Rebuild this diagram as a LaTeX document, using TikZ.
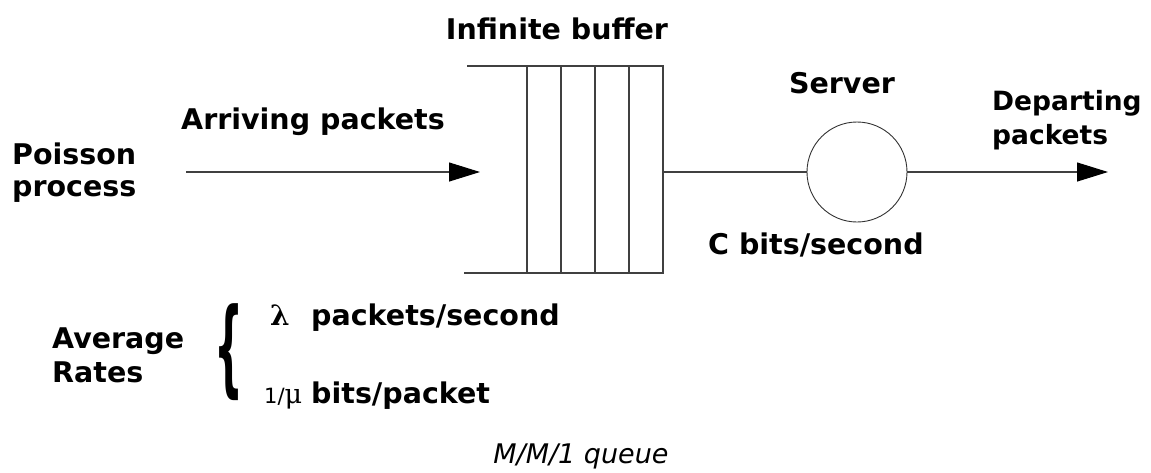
\documentclass[tikz,border=0pt]{standalone}
\usepackage{fontspec}
\setmainfont{DejaVu Sans}
\newfontfamily\symfont{DejaVu Serif}
\usetikzlibrary{arrows.meta}
\tikzset{
  lbl/.style={inner sep=0pt, font=\fontsize{28.5}{32}\selectfont\bfseries},
  captext/.style={inner sep=0pt, font=\fontsize{27}{30}\selectfont\itshape},
  wire/.style={draw=black!75, line width=1.1pt},
  flow/.style={wire, -{Triangle[length=31pt,width=19pt,fill=black,color=black]}},
}
\begin{document}
\begin{tikzpicture}[x=1pt,y=-1pt]
\useasboundingbox (0,0) rectangle (1151,472);
% buffer
\node[draw=black!75, line width=1.3pt, outer sep=0pt, minimum width=136pt, minimum height=207pt, inner sep=0pt] (buf) at (595,169.5) {};
\coordinate (btl) at (467,66);
\coordinate (bbl) at (464,273);
\draw[wire, line width=1.3pt] (btl) -- (buf.north west);
\draw[wire, line width=1.3pt] (bbl) -- (buf.south west);
\foreach \i in {1,2,3}{
  \draw[wire, line width=1.3pt] ([xshift=\i*34pt]buf.north west) -- ([xshift=\i*34pt]buf.south west);
}
% server
\node[draw=black!80, line width=0.9pt, outer sep=0pt, circle, minimum size=100pt, inner sep=0pt] (srv) at (857,172) {};
% arrows
\coordinate (src) at (186,172);
\coordinate (inend) at (480,172);
\coordinate (out) at (1108,172);
\draw[flow] (src) -- (inend);
\draw[wire] (srv.west -| buf.east) -- (srv.west);
\draw[flow] (srv.east) -- (out);
% labels
\node[lbl, anchor=base] (tbuf) at (557,39) {Infinite buffer};
\node[lbl, anchor=base west] (tarr) at (181,129) {Arriving packets};
\node[lbl, anchor=base west] (tpo1) at (12,164) {Poisson};
\node[lbl, anchor=base west] (tpo2) at (12,196) {process};
\node[lbl, anchor=base] (tsrv) at (842,93) {Server};
\node[lbl, font=\fontsize{26.5}{30}\selectfont\bfseries, anchor=base west] (tde1) at (992,110) {Departing};
\node[lbl, font=\fontsize{26.5}{30}\selectfont\bfseries, anchor=base west] (tde2) at (992,144) {packets};
\node[lbl, anchor=base west] (tcap) at (708,254) {C bits/second};
\node[lbl, anchor=base west] (tav1) at (52,348) {Average};
\node[lbl, anchor=base west] (tav2) at (52,382) {Rates};
\node[inner sep=0pt] (brace) at (228.5,352) {\resizebox*{29pt}{97pt}{\bfseries\{}};
\node[inner sep=0pt, anchor=base west] (tlam) at (270,325) {\fontsize{28}{30}\selectfont\symfont\bfseries λ};
\node[lbl, anchor=base west] (tpps) at (311,325) {packets/second};
\node[inner sep=0pt, anchor=base west] (tmu) at (264,403) {\fontsize{21}{22}\selectfont 1/\fontsize{27}{30}\selectfont\symfont μ};
\node[lbl, anchor=base west] (tbpp) at (311,403) {bits/packet};
\node[captext, anchor=base] (tq) at (581,463) {M/M/1 queue};
\end{tikzpicture}
\end{document}
